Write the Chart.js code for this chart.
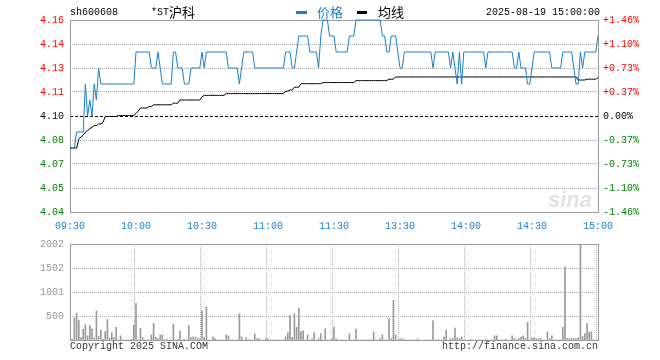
<!DOCTYPE html>
<html><head><meta charset="utf-8">
<script src="https://cdn.jsdelivr.net/npm/chart.js@4/dist/chart.umd.min.js"></script>
<style>
html,body{margin:0;padding:0;background:#fff;}
#wrap{position:relative;width:660px;height:360px;overflow:hidden;}
#c1{position:absolute;left:0;top:0;}
#c2{position:absolute;left:0;top:232px;}
</style></head><body>
<div id="wrap">
<canvas id="c1" width="660" height="232"></canvas>
<canvas id="c2" width="660" height="128"></canvas>
</div>
<script>
// ---------- data ----------
const stockCode = 'sh600608';
const stockName = '*ST沪科';
const dateText = '2025-08-19 15:00:00';
const legendNames = ['价格', '均线'];
const prevClose = 4.10;
const timeTicks = ['09:30','10:00','10:30','11:00','11:30','13:30','14:00','14:30','15:00'];
const priceTicks = [4.04, 4.055, 4.07, 4.085, 4.10, 4.115, 4.13, 4.145, 4.16];
const priceTickLabels = ['4.04','4.05','4.07','4.08','4.10','4.11','4.13','4.14','4.16'];
const pctTickLabels = ['-1.46%','-1.10%','-0.73%','-0.37%','0.00%','+0.37%','+0.73%','+1.10%','+1.46%'];
const volTicks = [0, 500.5, 1001, 1501.5, 2002];
const volTickLabels = ['', '500', '1001', '1502', '2002'];

const price = [
4.08,4.08,4.08,4.09,4.09,4.09,4.09,4.12,4.10,4.11,
4.10,4.12,4.11,4.13,4.12,4.12,4.12,4.12,4.12,4.12,
4.12,4.12,4.12,4.12,4.12,4.12,4.12,4.12,4.12,4.12,
4.14,4.14,4.14,4.14,4.14,4.14,4.14,4.13,4.13,4.13,
4.14,4.13,4.12,4.12,4.12,4.12,4.12,4.14,4.14,4.13,
4.13,4.13,4.12,4.12,4.12,4.13,4.13,4.13,4.13,4.13,
4.14,4.13,4.14,4.14,4.14,4.14,4.14,4.14,4.14,4.14,
4.14,4.14,4.13,4.13,4.13,4.13,4.13,4.12,4.13,4.14,
4.14,4.14,4.14,4.14,4.13,4.13,4.13,4.13,4.13,4.13,
4.13,4.13,4.13,4.13,4.13,4.13,4.13,4.13,4.14,4.14,
4.14,4.13,4.13,4.14,4.15,4.15,4.15,4.15,4.15,4.14,
4.14,4.14,4.14,4.13,4.15,4.16,4.16,4.16,4.15,4.15,
4.15,4.14,4.14,4.14,4.14,4.14,4.14,4.15,4.15,4.15,
4.16,4.16,4.16,4.16,4.16,4.16,4.16,4.16,4.16,4.16,
4.16,4.16,4.15,4.15,4.14,4.14,4.15,4.15,4.15,4.14,
4.13,4.13,4.14,4.14,4.14,4.14,4.14,4.14,4.14,4.14,
4.14,4.14,4.14,4.14,4.14,4.13,4.14,4.14,4.14,4.14,
4.14,4.14,4.14,4.13,4.14,4.13,4.12,4.14,4.12,4.14,
4.14,4.14,4.14,4.14,4.14,4.14,4.14,4.14,4.14,4.13,
4.14,4.14,4.14,4.14,4.14,4.14,4.14,4.14,4.14,4.14,
4.14,4.14,4.13,4.13,4.14,4.13,4.13,4.13,4.12,4.12,
4.13,4.14,4.14,4.14,4.14,4.14,4.14,4.14,4.14,4.13,
4.13,4.13,4.13,4.13,4.14,4.14,4.14,4.14,4.14,4.13,
4.12,4.12,4.14,4.13,4.14,4.14,4.14,4.14,4.14,4.14,
4.15
];

const avgPrice = [
4.080,4.080,4.080,4.080,4.0855,4.087,4.088,4.090,4.091,4.092,
4.093,4.094,4.094,4.095,4.095,4.096,4.0997,4.0997,4.0997,4.0997,
4.0997,4.0997,4.1003,4.1003,4.1003,4.1003,4.1003,4.1003,4.1003,4.1003,
4.1016,4.103,4.105,4.105,4.105,4.105,4.106,4.106,4.107,4.107,
4.107,4.107,4.107,4.107,4.107,4.107,4.107,4.108,4.108,4.108,
4.110,4.110,4.110,4.110,4.110,4.110,4.110,4.110,4.110,4.110,
4.112,4.1129,4.1129,4.1129,4.1129,4.1129,4.1129,4.1129,4.1129,4.1129,
4.1129,4.114,4.114,4.114,4.114,4.114,4.114,4.114,4.114,4.114,
4.114,4.114,4.114,4.114,4.114,4.114,4.114,4.114,4.114,4.114,
4.114,4.114,4.114,4.114,4.114,4.114,4.114,4.114,4.1155,4.1155,
4.1163,4.1163,4.118,4.118,4.118,4.1202,4.1202,4.1202,4.1202,4.1202,
4.1202,4.1202,4.1202,4.1202,4.1202,4.1209,4.1209,4.1209,4.1209,4.1209,
4.1209,4.1209,4.1209,4.1209,4.1209,4.1209,4.1209,4.1209,4.1209,4.1209,
4.1221,4.1221,4.1221,4.1221,4.1221,4.1221,4.1221,4.1221,4.1221,4.1221,
4.1221,4.1221,4.1221,4.1221,4.1221,4.123,4.123,4.123,4.1244,4.1244,
4.1244,4.1244,4.1244,4.1244,4.1244,4.1244,4.1244,4.1244,4.1244,4.1244,
4.1244,4.1244,4.1244,4.1244,4.1244,4.1244,4.1244,4.1244,4.1244,4.1244,
4.1244,4.1244,4.1244,4.1244,4.1244,4.1244,4.1244,4.1244,4.1244,4.1244,
4.1244,4.1244,4.1244,4.1244,4.1244,4.1244,4.1244,4.1244,4.1244,4.1244,
4.1244,4.1244,4.1244,4.1244,4.1244,4.1244,4.1244,4.1244,4.1244,4.1244,
4.1244,4.1244,4.1244,4.1244,4.1244,4.1244,4.1244,4.1244,4.1244,4.1244,
4.1244,4.1244,4.1244,4.1244,4.1244,4.1244,4.1244,4.1244,4.1244,4.1244,
4.1244,4.1244,4.1244,4.1244,4.1244,4.1244,4.1244,4.1244,4.1244,4.1244,
4.1244,4.1225,4.1225,4.1225,4.1225,4.123,4.123,4.123,4.123,4.123,
4.124
];

const volume = [
520,15,460,560,407,50,227,320,87,307,
227,40,607,73,207,20,173,427,40,153,
53,267,0,87,0,0,0,0,15,307,
767,0,247,53,0,0,0,107,347,53,
30,107,107,0,15,0,0,327,0,15,
187,0,15,0,307,53,67,53,40,20,
607,53,687,0,0,67,30,0,0,0,
0,107,87,0,0,0,0,547,67,0,
53,0,0,0,127,30,30,0,0,30,
30,0,0,0,0,0,0,0,67,153,
507,53,547,267,667,173,193,0,107,0,
30,153,0,30,133,0,233,0,0,30,
267,30,0,0,0,0,0,127,0,0,
227,0,0,0,0,0,0,0,167,0,
0,30,107,0,0,447,30,827,107,0,
30,30,15,0,0,0,0,0,30,0,
0,0,0,0,0,407,0,0,0,0,
67,207,0,30,30,247,45,30,67,0,
0,0,15,0,0,0,0,0,0,15,
0,0,0,87,87,0,0,0,15,0,
0,87,30,0,30,60,87,30,367,0,
45,45,30,30,30,0,0,167,30,87,
0,0,0,0,267,1527,30,30,30,30,
30,45,2002,73,133,347,167,167,0,0,
0
];

// minute categories 09:30-11:30, 13:01-15:00
const minutes = [];
for (let i = 0; i < price.length; i++) {
  const t = i <= 120 ? 570 + i : 660 + i;
  minutes.push(String(Math.floor(t / 60)).padStart(2, '0') + ':' + String(t % 60).padStart(2, '0'));
}

// ---------- style ----------
const MONO = '10px "Liberation Mono", "DejaVu Sans Mono", monospace';
const CJK = '13px "Noto Sans CJK SC", sans-serif';
const BLUE = '#1a7fcc';
const GRID = '#b0b0b0';
const FRAME = '#9a9a9a';
const RED = '#ff0000';
const GREEN = '#008000';
function tickColor(i) { return i > 4 ? RED : (i < 4 ? GREEN : '#000'); }

Chart.defaults.font.family = '"Liberation Mono", "DejaVu Sans Mono", monospace';
Chart.defaults.font.size = 10;

const framePlugin = {
  id: 'frame',
  beforeDatasetsDraw(chart) {
    const a = chart.chartArea, ctx = chart.ctx;
    ctx.save();
    ctx.strokeStyle = FRAME; ctx.lineWidth = 1; ctx.setLineDash([]);
    ctx.strokeRect(a.left + 0.5, a.top + 0.5, a.right - a.left, a.bottom - a.top);
    ctx.restore();
  }
};

const pricePlugin = {
  id: 'priceExtras',
  beforeDatasetsDraw(chart) {
    const ctx = chart.ctx, a = chart.chartArea;
    const y = Math.round(chart.scales.y.getPixelForValue(prevClose)) + 0.5;
    ctx.save();
    ctx.font = 'italic bold 22px "Liberation Sans", sans-serif';
    ctx.fillStyle = 'rgba(170,170,170,0.35)';
    ctx.textAlign = 'right'; ctx.textBaseline = 'alphabetic';
    ctx.fillText('sina', a.right - 6, a.bottom - 5);
    ctx.beginPath();
    ctx.strokeStyle = '#000'; ctx.lineWidth = 1; ctx.setLineDash([3, 2]);
    ctx.moveTo(a.left, y); ctx.lineTo(a.right, y); ctx.stroke();
    ctx.restore();
  },
  afterDraw(chart) {
    const ctx = chart.ctx;
    ctx.save();
    ctx.textBaseline = 'middle'; ctx.textAlign = 'left';
    const ty = 12.5;
    ctx.fillStyle = '#000';
    ctx.font = MONO; ctx.fillText(stockCode, 70, ty);
    ctx.font = MONO; ctx.fillText('*ST', 151, ty);
    ctx.font = CJK; ctx.fillText(stockName.slice(3), 169, ty);
    ctx.fillStyle = BLUE; ctx.fillRect(296, 11, 11, 3);
    ctx.font = CJK; ctx.fillText(legendNames[0], 317, ty);
    ctx.fillStyle = '#000'; ctx.fillRect(357, 11, 10, 3);
    ctx.fillText(legendNames[1], 378, ty);
    ctx.font = MONO; ctx.fillText(dateText, 486, ty);
    ctx.restore();
  }
};

const volPlugin = {
  id: 'volExtras',
  afterDraw(chart) {
    const ctx = chart.ctx;
    ctx.save();
    ctx.font = MONO; ctx.fillStyle = '#333'; ctx.textBaseline = 'middle';
    ctx.textAlign = 'left'; ctx.fillText('Copyright 2025 SINA.COM', 70, 114.5);
    ctx.textAlign = 'right'; ctx.fillText('http://finance.sina.com.cn', 598, 114.5);
    ctx.restore();
  }
};

const xGridColor = (c) => (c.index % 30 === 0 ? GRID : 'rgba(0,0,0,0)');

new Chart(document.getElementById('c1'), {
  type: 'line',
  data: {
    labels: minutes,
    datasets: [
      { data: price, borderColor: BLUE, borderWidth: 1, pointRadius: 0, tension: 0, order: 1, clip: 3 },
      { data: avgPrice, borderColor: '#000', borderWidth: 1, pointRadius: 0, tension: 0, order: 2, clip: 3 }
    ]
  },
  options: {
    responsive: false, animation: false, devicePixelRatio: 1,
    layout: { padding: { top: 20, left: 0, right: 0, bottom: 0 } },
    plugins: { legend: { display: false }, tooltip: { enabled: false } },
    scales: {
      x: {
        type: 'category', offset: false,
        grid: { color: xGridColor, drawTicks: false, lineWidth: 1 },
        border: { display: false, dash: [1, 1] },
        ticks: {
          autoSkip: false, maxRotation: 0, padding: 8, color: BLUE,
          callback: (v, i) => (i % 30 === 0 ? timeTicks[i / 30] : null)
        },
        afterFit: (s) => { s.height = 20; }
      },
      y: {
        position: 'left', min: 4.04, max: 4.16,
        afterBuildTicks: (s) => { s.ticks = priceTicks.map(v => ({ value: v })); },
        grid: { color: (c) => (c.index === 4 ? 'rgba(0,0,0,0)' : GRID), drawTicks: false },
        border: { display: false, dash: [1, 1] },
        ticks: { padding: 6, color: (c) => tickColor(c.index), callback: (v, i) => priceTickLabels[i] },
        afterFit: (s) => { s.width = 70; }
      },
      y2: {
        position: 'right', min: 4.04, max: 4.16,
        afterBuildTicks: (s) => { s.ticks = priceTicks.map(v => ({ value: v })); },
        grid: { display: false, drawTicks: false },
        border: { display: false },
        ticks: { padding: 5, color: (c) => tickColor(c.index), callback: (v, i) => pctTickLabels[i] },
        afterFit: (s) => { s.width = 62; }
      }
    }
  },
  plugins: [pricePlugin, framePlugin]
});

new Chart(document.getElementById('c2'), {
  type: 'bar',
  data: {
    labels: minutes,
    datasets: [{ data: volume, backgroundColor: '#999', barThickness: 1, borderWidth: 0 }]
  },
  options: {
    responsive: false, animation: false, devicePixelRatio: 1,
    layout: { padding: { top: 8, left: 0, right: 62, bottom: 0 } },
    plugins: { legend: { display: false }, tooltip: { enabled: false } },
    scales: {
      x: {
        type: 'category', offset: false,
        grid: { color: xGridColor, drawTicks: false },
        border: { display: false, dash: [1, 1] },
        ticks: { display: false, autoSkip: false },
        afterFit: (s) => { s.height = 20; }
      },
      y: {
        position: 'left', min: 0, max: 2002,
        afterBuildTicks: (s) => { s.ticks = volTicks.map(v => ({ value: v })); },
        grid: { color: GRID, drawTicks: false },
        border: { display: false, dash: [1, 1] },
        ticks: { padding: 6, color: '#999', callback: (v, i) => volTickLabels[i] },
        afterFit: (s) => { s.width = 70; }
      }
    }
  },
  plugins: [framePlugin, volPlugin]
});
</script>
</body></html>
